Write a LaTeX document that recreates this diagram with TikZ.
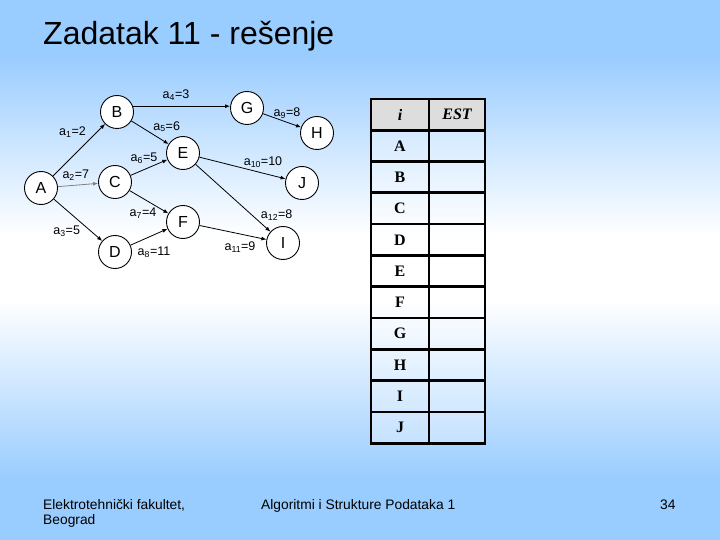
\documentclass[tikz,border=0pt]{standalone}
\usepackage{fontspec}
\setmainfont{Liberation Sans}
\newfontfamily\tabfont{Liberation Serif}
\usetikzlibrary{arrows.meta,positioning}
\definecolor{slideblue}{HTML}{99CCFF}
\definecolor{hdrgray}{HTML}{DDDDDD}

\begin{document}
\begin{tikzpicture}[x=1pt, y=-1pt,
  vertex/.style={draw, circle, fill=white, line width=0.9pt, minimum size=33pt, inner sep=0pt, font=\fontsize{16}{16}\selectfont},
  weight/.style={inner sep=0pt, font=\fontsize{12.5}{13}\selectfont},
  arrow/.style={-{Latex[length=5pt, width=4pt]}, line width=0.8pt},
  hdr/.style={draw, line width=2.7pt, outer sep=0pt, inner sep=0pt, fill=hdrgray, minimum height=31.3pt, font=\fontsize{16}{16}\selectfont\tabfont\bfseries\itshape},
  cell/.style={draw, line width=2.7pt, outer sep=0pt, inner sep=0pt, fill=white, fill opacity=0.3, text opacity=1, minimum height=31.3pt, font=\fontsize{16}{16}\selectfont\tabfont\bfseries},
  foot/.style={inner sep=0pt, anchor=base west, font=\fontsize{13.8}{15}\selectfont, align=left}
]
\useasboundingbox (0,0) rectangle (720,540);
% slide background
\fill[slideblue] (0,0) rectangle (720,540);
\shade[top color=slideblue, bottom color=white] (0,55) rectangle (720,235);
\fill[white] (0,235) rectangle (720,300);
\shade[top color=white, bottom color=slideblue] (0,300) rectangle (720,480);

\node[inner sep=0pt, anchor=base west, font=\fontsize{32}{36}\selectfont] (title) at (43,45) {Zadatak 11 - rešenje};

% graph
\node[vertex] (A) at (41,188) {A};
\node[vertex] (B) at (117,112) {B};
\node[vertex] (C) at (115,182) {C};
\node[vertex] (D) at (115,252) {D};
\node[vertex] (E) at (183,153) {E};
\node[vertex] (F) at (183,222) {F};
\node[vertex] (G) at (247,108) {G};
\node[vertex] (H) at (317,133) {H};
\node[vertex] (J) at (302,183) {J};
\node[vertex] (I) at (283,243) {I};
\draw[arrow] (A) -- (B);
\draw[arrow, gray] (A) -- (C);
\draw[arrow] (A) -- (D);
\draw[arrow] (B.20) -- (G.west |- B.20);
\draw[arrow] (B) -- (E);
\draw[arrow] (C) -- (E);
\draw[arrow] (C) -- (F);
\draw[arrow] (D) -- (F);
\draw[arrow] (G) -- (H);
\draw[arrow] (E) -- (J);
\draw[arrow] (E) -- (I);
\draw[arrow] (F) -- (I);
\node[weight] (w1) at (72.5,131.7) {a\textsubscript{1}=2};
\node[weight] (w2) at (75.8,175) {a\textsubscript{2}=7};
\node[weight] (w3) at (66.7,231.7) {a\textsubscript{3}=5};
\node[weight] (w4) at (176,95) {a\textsubscript{4}=3};
\node[weight] (w5) at (166.7,126.7) {a\textsubscript{5}=6};
\node[weight] (w6) at (144,158.3) {a\textsubscript{6}=5};
\node[weight] (w7) at (143,213.3) {a\textsubscript{7}=4};
\node[weight] (w8) at (154,252.7) {a\textsubscript{8}=11};
\node[weight] (w9) at (287,113.3) {a\textsubscript{9}=8};
\node[weight] (w10) at (263,161.7) {a\textsubscript{10}=10};
\node[weight] (w11) at (240,246.7) {a\textsubscript{11}=9};
\node[weight] (w12) at (276.7,215) {a\textsubscript{12}=8};

% EST table
\node[hdr, minimum width=58pt] (ihdr) at (400,114.6) {i};
\node[hdr, minimum width=56pt, right=0pt of ihdr] (esthdr) {EST};
\node[cell, minimum width=58pt, below=0pt of ihdr] (iA) {A};
\node[cell, minimum width=56pt, right=0pt of iA] (estA) {};
\node[cell, minimum width=58pt, below=0pt of iA] (iB) {B};
\node[cell, minimum width=56pt, right=0pt of iB] (estB) {};
\node[cell, minimum width=58pt, below=0pt of iB] (iC) {C};
\node[cell, minimum width=56pt, right=0pt of iC] (estC) {};
\node[cell, minimum width=58pt, below=0pt of iC] (iD) {D};
\node[cell, minimum width=56pt, right=0pt of iD] (estD) {};
\node[cell, minimum width=58pt, below=0pt of iD] (iE) {E};
\node[cell, minimum width=56pt, right=0pt of iE] (estE) {};
\node[cell, minimum width=58pt, below=0pt of iE] (iF) {F};
\node[cell, minimum width=56pt, right=0pt of iF] (estF) {};
\node[cell, minimum width=58pt, below=0pt of iF] (iG) {G};
\node[cell, minimum width=56pt, right=0pt of iG] (estG) {};
\node[cell, minimum width=58pt, below=0pt of iG] (iH) {H};
\node[cell, minimum width=56pt, right=0pt of iH] (estH) {};
\node[cell, minimum width=58pt, below=0pt of iH] (iI) {I};
\node[cell, minimum width=56pt, right=0pt of iI] (estI) {};
\node[cell, minimum width=58pt, below=0pt of iI] (iJ) {J};
\node[cell, minimum width=56pt, right=0pt of iJ] (estJ) {};

% footer
\node[foot] (school) at (43,524.3) {Elektrotehnički fakultet,\\Beograd};
\node[foot] (course) at (261,509) {Algoritmi i Strukture Podataka 1};
\node[foot] (page) at (660,509) {34};
\end{tikzpicture}
\end{document}
